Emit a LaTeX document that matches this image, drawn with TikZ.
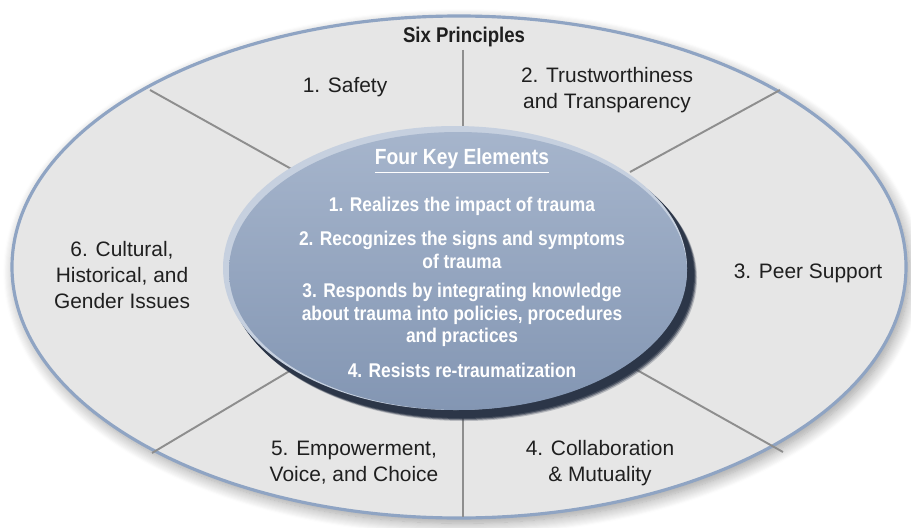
\documentclass[tikz,border=0pt]{standalone}
\usepackage{fontspec}
\setmainfont{Liberation Sans}
\newfontfamily\narrowsans[FakeStretch=0.875]{Liberation Sans}
\usetikzlibrary{calc,shadows.blur}

\definecolor{ringblue}{HTML}{8FA4C3}
\definecolor{ringgray}{HTML}{E6E6E6}
\definecolor{divgray}{HTML}{8E8E8E}
\definecolor{keytop}{HTML}{A6B5CC}
\definecolor{keybot}{HTML}{8396B3}
\definecolor{keydark}{HTML}{2C3648}
\definecolor{keylight}{HTML}{C6D0DF}
\definecolor{labeltext}{HTML}{1F1F1F}

\begin{document}
\begin{tikzpicture}[
    x=0.02cm, y=-0.02cm,
    principle/.style = {align=center, text=labeltext, inner sep=0pt,
                        font=\fontsize{11.9}{14.7}\selectfont},
    element/.style   = {align=center, text=white, inner sep=0pt,
                        font=\narrowsans\bfseries\fontsize{11.3}{13}\selectfont},
    divider/.style   = {draw=divgray, line width=1.1pt},
  ]
  \useasboundingbox (0,0) rectangle (911,527);

  \coordinate (M) at (459,267); % Mittelpunkt aussen
  \coordinate (K) at (458,271); % Mittelpunkt innen

  % Ring
  \fill[ringgray, blur shadow={shadow xshift=2pt, shadow yshift=-3pt,
        shadow blur radius=7pt, shadow blur steps=12}]
    (M) ellipse [x radius=447, y radius=251];
  \draw[ringblue, line width=1.8pt] (M) ellipse [x radius=447, y radius=251];

  % Trennlinien
  \coordinate (d1o) at (463,50);  \coordinate (d1i) at (463,150);
  \coordinate (d2o) at (780,90);  \coordinate (d2i) at (630,172);
  \coordinate (d3o) at (783,452); \coordinate (d3i) at (628,365);
  \coordinate (d4o) at (463,517); \coordinate (d4i) at (463,400);
  \coordinate (d5o) at (152,453); \coordinate (d5i) at (298,366);
  \coordinate (d6o) at (150,90);  \coordinate (d6i) at (295,171);
  \foreach \i in {1,...,6}
    \draw[divider] (d\i o) -- (d\i i);

  % Ellipse innen
  \foreach \s/\o in {7/0.25,6/0.45,5/0.7,4/1}
    \fill[keydark, opacity=\o] ($(K)+(\s-1,\s)$) ellipse [x radius=233, y radius=143];
  \fill[keylight] ($(K)+(-3,-3)$) ellipse [x radius=232, y radius=142];
  \shade[top color=keytop, bottom color=keybot]
    (K) ellipse [x radius=229, y radius=139];

  % Sechs Prinzipien
  \node[principle, font=\narrowsans\bfseries\fontsize{12.1}{14}\selectfont] (sixp) at (464,37) {Six Principles};
  \node[principle] (p1) at (345,87) {1. Safety};
  \node[principle] (p2) at (607,90) {2. Trustworthiness\\and Transparency};
  \node[principle] (p3) at (808,273) {3. Peer Support};
  \node[principle] (p4) at (600,463) {4. Collaboration\\\& Mutuality};
  \node[principle] (p5) at (354,463) {5. Empowerment,\\Voice, and Choice};
  \node[principle] (p6) at (122,275) {6. Cultural,\\Historical, and\\Gender Issues};

  % Vier Kernelemente
  \node[element, font=\narrowsans\bfseries\fontsize{12.5}{14}\selectfont] (keyt) at (462,161) {\underline{Four Key Elements}};
  \node[element] (e1) at (462,206) {1. Realizes the impact of trauma};
  \node[element] (e2) at (462,250) {2. Recognizes the signs and symptoms\\of trauma};
  \node[element] (e3) at (462,315) {3. Responds by integrating knowledge\\about trauma into policies, procedures\\and practices};
  \node[element] (e4) at (462,370) {4. Resists re-traumatization};

\end{tikzpicture}
\end{document}
